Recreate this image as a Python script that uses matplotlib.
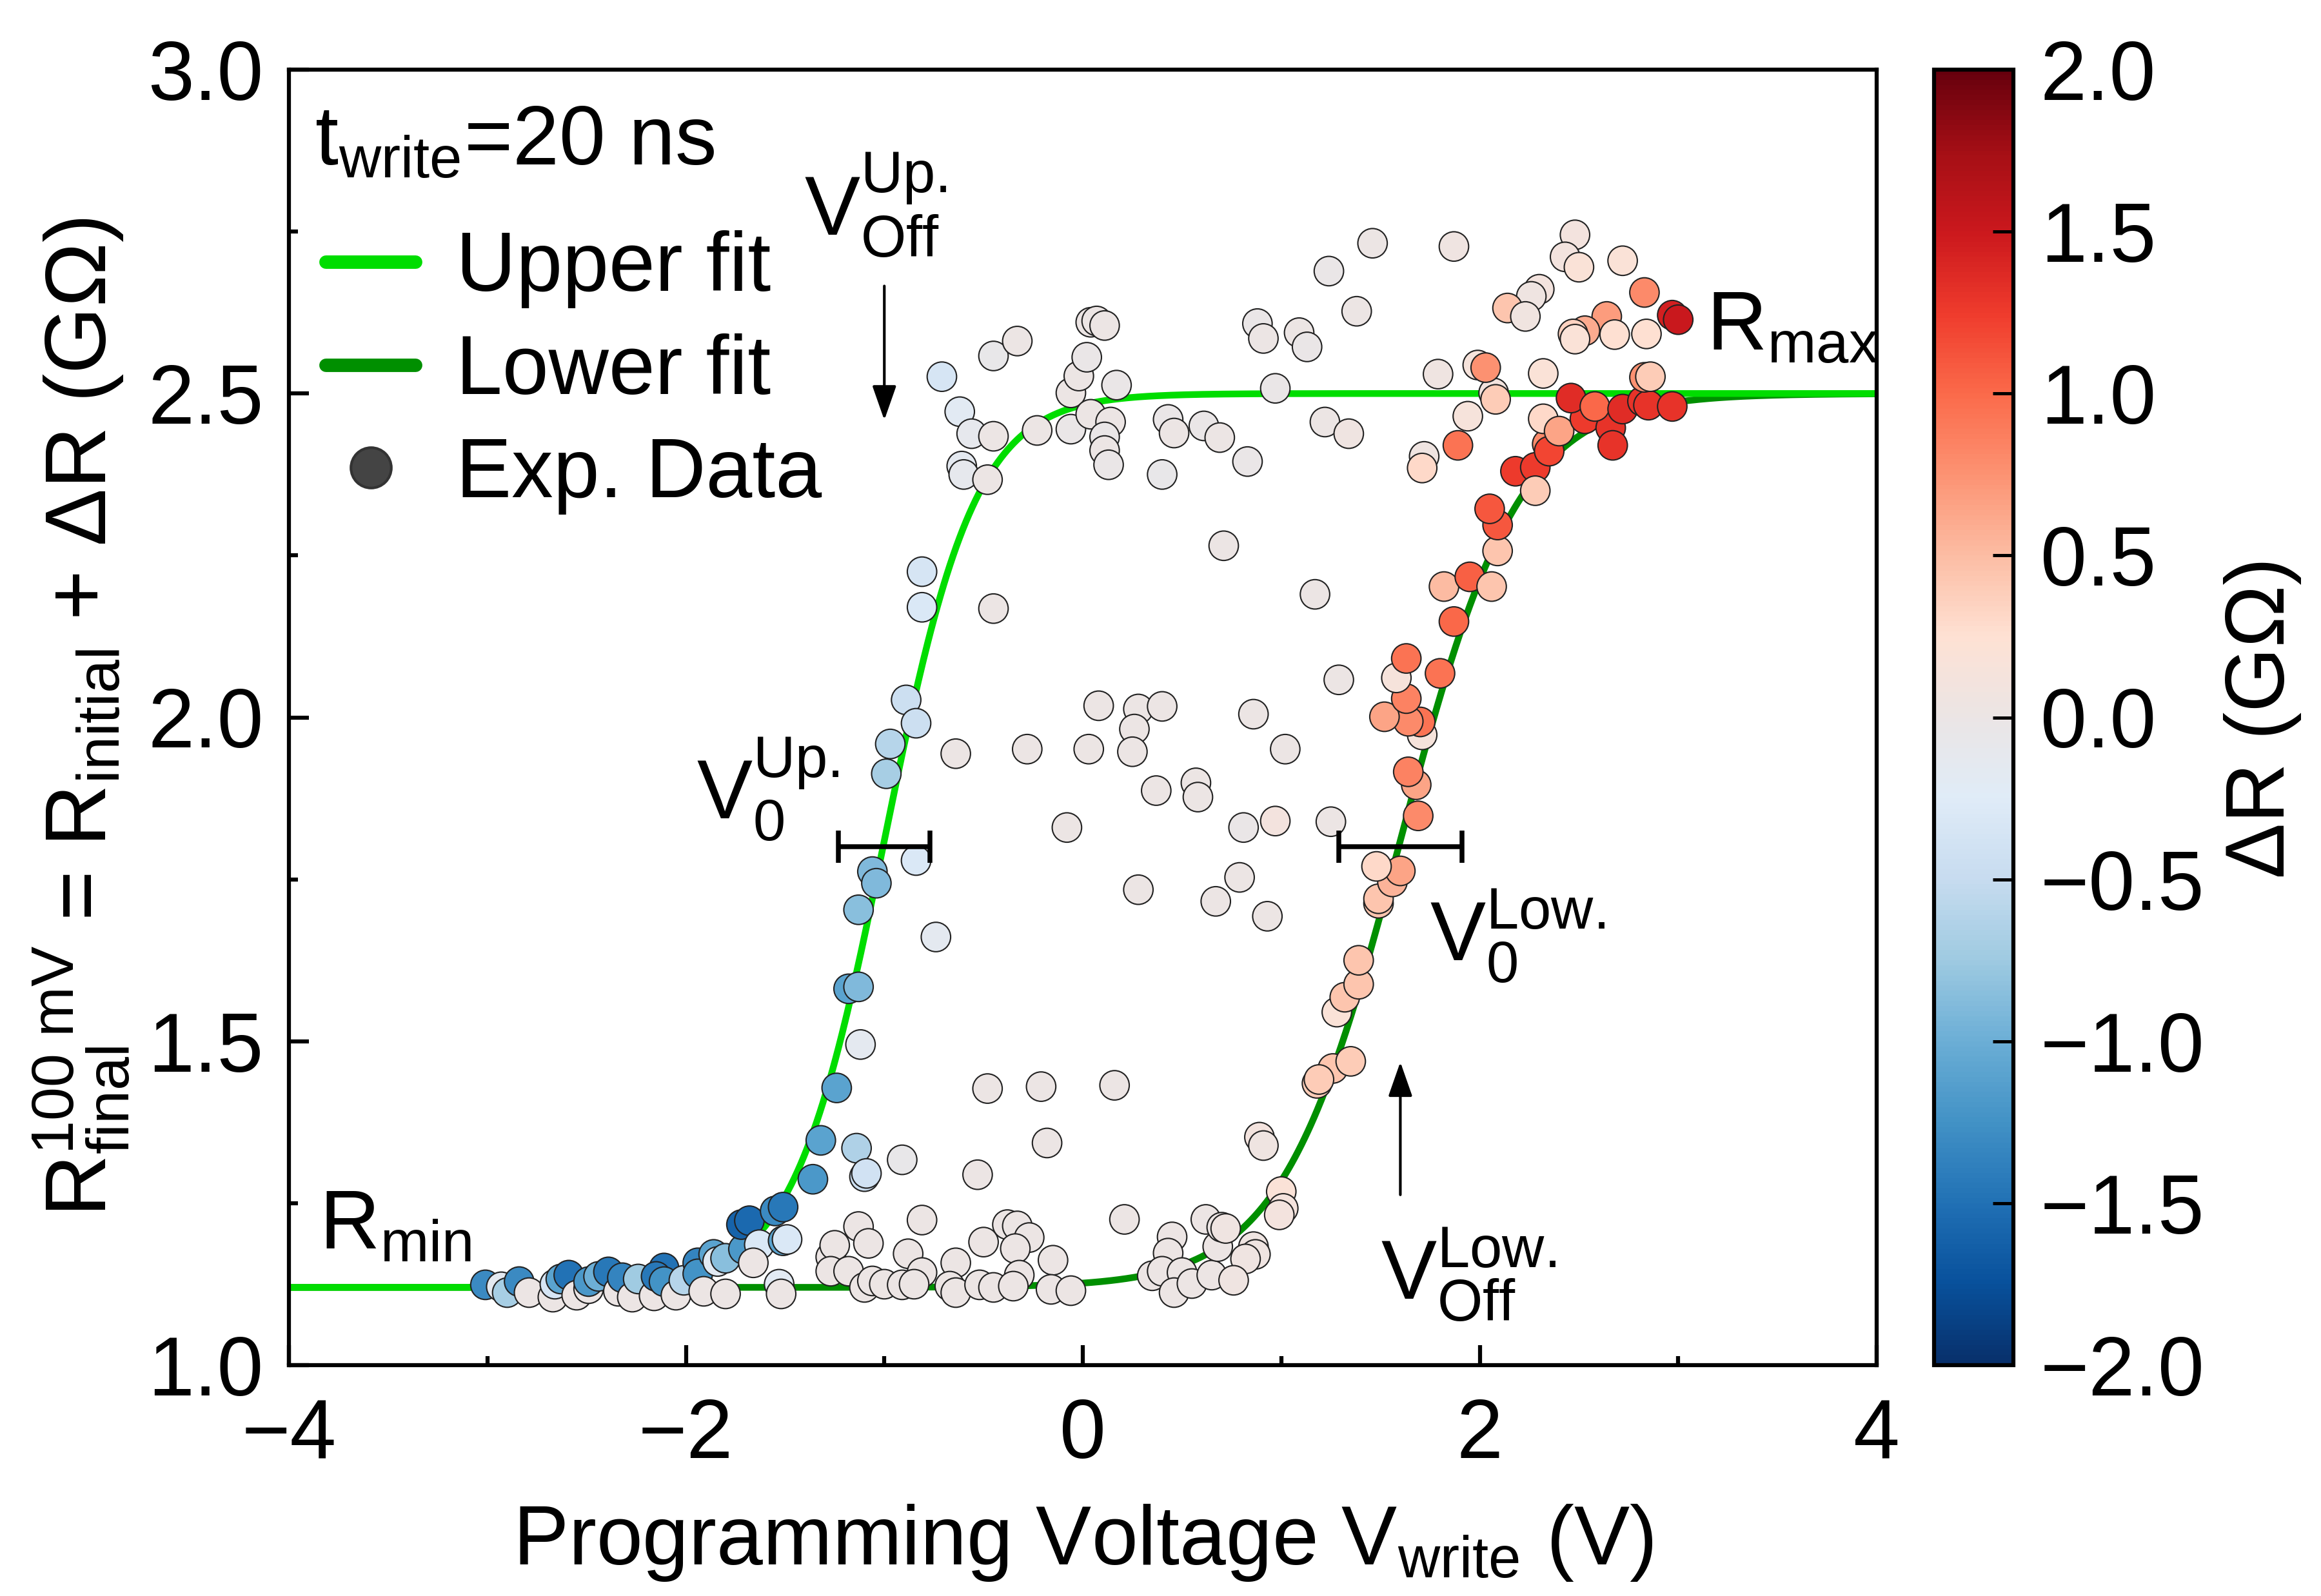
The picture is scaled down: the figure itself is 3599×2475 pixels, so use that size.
import numpy as np
import matplotlib
matplotlib.use('Agg')
import matplotlib.pyplot as plt
from matplotlib.lines import Line2D
from matplotlib.ticker import MultipleLocator
from matplotlib.colors import LinearSegmentedColormap

# ---- data ----
# low state, left side (V < -1.2)
low_left_v = [-3.01, -2.93, -2.90, -2.84, -2.79, -2.67, -2.66, -2.63, -2.59, -2.55,
              -2.49, -2.49, -2.44, -2.39, -2.34, -2.32, -2.27, -2.24, -2.16, -2.11,
              -2.15, -2.11, -2.05, -2.01, -1.94, -1.94, -1.91, -1.86, -1.84, -1.80,
              -1.80, -1.71, -1.72, -1.68, -1.63, -1.66, -1.55, -1.51, -1.51, -1.49,
              -1.53, -1.52, -1.36, -1.32, -1.24, -1.27, -1.25, -1.27]
low_left_r = [1.124, 1.121, 1.112, 1.129, 1.112, 1.105, 1.125, 1.133, 1.139, 1.108,
              1.118, 1.129, 1.137, 1.144, 1.114, 1.135, 1.105, 1.133, 1.107, 1.150,
              1.137, 1.129, 1.108, 1.131, 1.158, 1.141, 1.114, 1.171, 1.160, 1.165,
              1.110, 1.179, 1.217, 1.223, 1.186, 1.158, 1.238, 1.244, 1.192, 1.194,
              1.125, 1.110, 1.287, 1.347, 1.428, 1.167, 1.185, 1.145]
low_left_dr = [-1.3, -0.15, -0.7, -1.3, 0.0, 0.0, -0.35, -1.1, -1.5, 0.0,
               0.0, -1.2, -1.0, -1.45, 0.0, -1.35, 0.0, -0.75, 0.0, -1.5,
               -1.45, -1.25, 0.0, -0.6, -1.35, -1.25, 0.0, -1.1, -0.2, -0.85,
               0.0, -1.2, -1.6, -1.55, -0.3, 0.0, -1.3, -1.45, -1.1, -0.3,
               -0.2, 0.0, -1.2, -1.1, -1.1, 0.0, 0.0, 0.0]

# upward switching branch
rise_up_v = [-1.18, -1.13, -1.12, -1.14, -0.91, -1.10, -1.09, -1.06, -1.04, -1.13,
             -0.89, -0.84, -0.97, -0.99, -0.84, -0.74, -0.81, -0.81, -0.45, -0.64]
rise_up_r = [1.581, 1.584, 1.495, 1.335, 1.317, 1.291, 1.296, 1.762, 1.744, 1.703,
             2.027, 1.991, 1.959, 1.913, 1.779, 1.661, 2.225, 2.170, 2.168, 1.944]
rise_up_dr = [-1.1, -0.9, -0.15, -0.65, -0.05, -0.45, -0.4, -0.9, -0.9, -0.85,
              -0.45, -0.45, -0.6, -0.7, -0.3, -0.15, -0.35, -0.3, 0.0, 0.0]

# high state plateau
plateau_v = [-0.71, -0.45, -0.33, -0.62, -0.56, -0.45, -0.61, -0.60, -0.48, -0.23,
             -0.06, -0.06, -0.02, 0.02, 0.04, 0.04, 0.07, 0.11, 0.17, 0.14,
             0.11, 0.11, 0.13, 0.43, 0.46, 0.61, 0.69, 0.40, 0.83, 0.97,
             1.22, 1.34, 0.71, 1.17, 1.46, 1.24, 1.38, 0.88, 0.91, 1.09, 1.13]
plateau_r = [2.526, 2.558, 2.581, 2.472, 2.438, 2.434, 2.388, 2.375, 2.367, 2.443,
             2.445, 2.501, 2.527, 2.556, 2.610, 2.468, 2.612, 2.605, 2.513, 2.456,
             2.433, 2.412, 2.390, 2.460, 2.439, 2.450, 2.432, 2.375, 2.395, 2.508,
             2.456, 2.438, 2.265, 2.190, 2.732, 2.689, 2.627, 2.608, 2.585, 2.594, 2.572]
plateau_dr = [-0.35, -0.05, 0.0, -0.2, -0.1, 0.0, -0.15, -0.1, 0.0, 0.0,
              -0.03, 0.0, 0.0, -0.03, 0.0, 0.0, 0.0, 0.0, -0.03, 0.0,
              -0.03, 0.0, -0.03, -0.02, 0.0, -0.02, 0.0, -0.05, -0.03, -0.03,
              0.0, 0.05, 0.0, 0.0, 0.0, -0.02, 0.0, -0.02, 0.0, 0.0, -0.02]

# scattered points inside the loop
middle_v = [1.29, 0.08, 0.28, 0.40, 0.26, 0.25, 0.86, -0.28, 0.03, 1.02,
            0.37, 0.57, 0.58, -0.08, 0.81, 0.97, 1.25, 0.28, 0.79, 0.67,
            0.93, -0.48, -0.21, 0.16, -0.18, -0.53, 0.89, 0.91]
middle_r = [2.058, 2.018, 2.013, 2.017, 1.982, 1.947, 2.005, 1.951, 1.951, 1.951,
            1.887, 1.899, 1.877, 1.830, 1.830, 1.840, 1.839, 1.734, 1.753, 1.716,
            1.693, 1.427, 1.430, 1.432, 1.343, 1.294, 1.352, 1.339]
middle_dr = [0.0, 0.0, 0.0, 0.0, 0.0, 0.0, 0.0, 0.0, 0.0, 0.0,
             0.0, 0.0, 0.0, 0.0, -0.02, 0.1, 0.0, 0.0, 0.0, 0.0,
             0.0, 0.0, 0.0, 0.0, 0.0, 0.0, 0.1, 0.05]

# low state, middle
low_mid_v = [-1.13, -1.08, -1.18, -1.10, -1.06, -1.00, -0.91, -0.88, -0.81, -0.81,
             -0.85, -0.64, -0.67, -0.64, -0.52, -0.45, -0.50, -0.38, -0.33, -0.27,
             -0.34, -0.32, -0.35, -0.15, -0.16, -0.06, 0.21, 0.45, 0.43, 0.35,
             0.40, 0.50, 0.46, 0.55, 0.62, 0.65, 0.68, 0.70, 0.72, 0.86,
             0.87, 0.82, 0.76, 1.00, 1.01, 0.99]
low_mid_r = [1.214, 1.188, 1.145, 1.120, 1.130, 1.125, 1.124, 1.172, 1.224, 1.143,
             1.125, 1.158, 1.122, 1.112, 1.124, 1.120, 1.190, 1.217, 1.215, 1.197,
             1.180, 1.139, 1.122, 1.162, 1.117, 1.115, 1.225, 1.198, 1.173, 1.138,
             1.145, 1.143, 1.112, 1.126, 1.225, 1.139, 1.183, 1.213, 1.211, 1.183,
             1.171, 1.164, 1.131, 1.268, 1.242, 1.232]
low_mid_dr = [0.0, 0.0, 0.0, 0.0, 0.0, 0.0, 0.0, 0.0, 0.0, 0.0,
              0.0, 0.0, 0.0, 0.0, 0.0, 0.0, 0.0, 0.0, 0.0, 0.0,
              0.0, 0.0, 0.0, 0.0, 0.0, 0.0, 0.0, 0.0, 0.0, 0.0,
              0.0, 0.0, 0.0, 0.0, 0.0, 0.0, 0.0, 0.0, 0.05, 0.05,
              0.05, 0.05, 0.05, 0.2, 0.12, 0.1]

# downward switching branch
rise_low_v = [1.18, 1.26, 1.35, 1.28, 1.32, 1.39, 1.39, 1.49, 1.49, 1.56,
              1.60, 1.48, 1.69, 1.68, 1.64, 1.71, 1.70, 1.64, 1.52, 1.63,
              1.58, 1.63, 1.80, 1.87, 1.82, 1.95, 2.06, 2.09, 2.09, 2.05,
              2.18, 2.28, 2.28, 2.34, 2.35, 2.32, 2.40, 2.53, 2.66, 2.67,
              2.46, 2.58, 2.72, 2.82, 2.85, 2.97, 2.07, 2.08, 2.32, 2.83,
              2.86, 1.19]
rise_low_r = [1.435, 1.458, 1.469, 1.545, 1.568, 1.588, 1.625, 1.713, 1.720, 1.746,
              1.763, 1.770, 1.848, 1.896, 1.916, 1.973, 1.993, 1.994, 2.001, 2.029,
              2.061, 2.091, 2.068, 2.148, 2.202, 2.217, 2.202, 2.257, 2.297, 2.322,
              2.380, 2.386, 2.350, 2.422, 2.411, 2.461, 2.442, 2.461, 2.447, 2.420,
              2.493, 2.480, 2.476, 2.488, 2.482, 2.480, 2.501, 2.491, 2.531, 2.525,
              2.526, 1.441]
rise_low_dr = [0.4, 0.45, 0.4, 0.2, 0.45, 0.45, 0.45, 0.45, 0.45, 0.55,
               0.65, 0.3, 0.8, 0.65, 0.85, 0.15, 0.95, 0.8, 0.65, 0.85,
               0.15, 0.95, 0.95, 1.0, 0.5, 1.05, 0.45, 0.45, 1.1, 1.1,
               1.25, 1.25, 0.4, 0.8, 1.2, 0.3, 0.65, 1.25, 1.3, 1.3,
               1.35, 1.0, 1.35, 1.3, 1.3, 1.3, 0.1, 0.4, 0.2, 0.75,
               0.4, 0.4]

# above the plateau, right side
top_right_v = [1.87, 1.79, 1.99, 2.03, 1.94, 1.89, 1.72, 1.71, 2.48, 2.43,
               2.50, 2.72, 2.30, 2.26, 2.14, 2.23, 2.83, 2.97, 3.00, 2.64,
               2.53, 2.47, 2.48, 2.68, 2.84]
top_right_r = [2.727, 2.530, 2.544, 2.540, 2.465, 2.420, 2.403, 2.385, 2.745, 2.711,
               2.695, 2.705, 2.661, 2.650, 2.632, 2.619, 2.656, 2.621, 2.614, 2.619,
               2.597, 2.592, 2.584, 2.591, 2.592]
top_right_dr = [0.05, 0.05, 0.15, 0.75, 0.15, 0.95, 0.05, 0.3, 0.1, 0.1,
                0.2, 0.2, 0.1, 0.05, 0.45, 0.07, 0.8, 1.45, 1.5, 0.7,
                0.6, 0.35, 0.2, 0.25, 0.25]

# fit parameters (sigmoid)
r_min = 1.12
r_max = 2.50
v0_up, w_up, v0_up_err = -1.00, 0.23, 0.23
v0_low, w_low, v0_low_err = 1.60, 0.30, 0.31
r_mark = 1.80

v_write = np.concatenate([low_left_v, rise_up_v, plateau_v, middle_v, low_mid_v, rise_low_v, top_right_v])
r_final = np.concatenate([low_left_r, rise_up_r, plateau_r, middle_r, low_mid_r, rise_low_r, top_right_r])
delta_r = np.concatenate([low_left_dr, rise_up_dr, plateau_dr, middle_dr, low_mid_dr, rise_low_dr, top_right_dr])

plt.rcParams['font.family'] = ['Liberation Sans', 'DejaVu Sans']
plt.rcParams['mathtext.fontset'] = 'custom'
plt.rcParams['mathtext.rm'] = 'Liberation Sans'
plt.rcParams['mathtext.it'] = 'Liberation Sans:italic'
plt.rcParams['mathtext.bf'] = 'Liberation Sans:bold'
plt.rcParams['mathtext.default'] = 'regular'
plt.rcParams['font.size'] = 31

# blue -> grey-white -> red map
blues = plt.get_cmap('Blues')
reds = plt.get_cmap('Reds')
cmap = LinearSegmentedColormap.from_list(
    'blue_red', list(blues(np.linspace(1, 0.12, 8))) + ['#ebe5e5'] + list(reds(np.linspace(0.12, 1, 8))))


def sigmoid(v, v0, w):
    return r_min + (r_max - r_min) / (1 + np.exp(-(v - v0) / w))


fig = plt.figure(figsize=(3599 / 300, 2475 / 300), dpi=300)
ax = fig.add_axes([448 / 3599, 1 - 2117 / 2475, 2462 / 3599, 2009 / 2475])
cax = fig.add_axes([2999 / 3599, 1 - 2117 / 2475, 123 / 3599, 2009 / 2475])

v_fit = np.linspace(-4, 4, 1000)
ax.plot(v_fit, sigmoid(v_fit, v0_low, w_low), color='#008f00', lw=2.5, zorder=2)
ax.plot(v_fit, sigmoid(v_fit, v0_up, w_up), color='#00dd00', lw=2.5, zorder=2)

sc = ax.scatter(v_write, r_final, c=delta_r, cmap=cmap, vmin=-2, vmax=2,
                s=120, edgecolors='#222222', linewidths=0.5, zorder=3)

ax.errorbar([v0_up, v0_low], [r_mark, r_mark], xerr=[v0_up_err, v0_low_err], fmt='none',
            ecolor='black', elinewidth=1.8, capsize=6, capthick=1.8, zorder=4)

arrow = dict(arrowstyle='-|>,head_length=0.4,head_width=0.14', mutation_scale=27.5,
             lw=1.0, color='black', shrinkA=0, shrinkB=0)
ax.annotate('', xy=(v0_up, 2.459), xytext=(v0_up, 2.666), arrowprops=arrow, zorder=4)
ax.annotate('', xy=(v0_low, 1.468), xytext=(v0_low, 1.263), arrowprops=arrow, zorder=4)

ax.text(-3.871, 2.852, 't$_{write}$=20 ns', va='baseline', ha='left')
ax.text(-1.404, 2.744, '$V^{Up.}_{Off}$', va='baseline', ha='left')
ax.text(-1.945, 1.843, '$V^{Up.}_{0}$', va='baseline', ha='left')
ax.text(1.748, 1.624, '$V^{Low.}_{0}$', va='baseline', ha='left')
ax.text(1.502, 1.101, '$V^{Low.}_{Off}$', va='baseline', ha='left')
ax.text(3.143, 2.567, '$R_{max}$', va='baseline', ha='left')
ax.text(-3.846, 1.18, '$R_{min}$', va='baseline', ha='left')

handles = [Line2D([0], [0], color='#00dd00', lw=5, solid_capstyle='round'),
           Line2D([0], [0], color='#008f00', lw=5, solid_capstyle='round'),
           Line2D([0], [0], ls='none', marker='o', ms=15, mfc='#444444', mec='#333333')]
ax.legend(handles, ['Upper fit', 'Lower fit', 'Exp. Data'], loc='upper left',
          bbox_to_anchor=(-3.815, 2.752), bbox_transform=ax.transData, frameon=False,
          borderpad=0, borderaxespad=0, handlelength=1.08, handletextpad=0.485,
          labelspacing=0.3, fontsize=31)

ax.set_xlim(-4, 4)
ax.set_ylim(1.0, 3.0)
ax.set_xticks([-4, -2, 0, 2, 4])
ax.set_yticks([1.0, 1.5, 2.0, 2.5, 3.0])
ax.xaxis.set_minor_locator(MultipleLocator(1))
ax.yaxis.set_minor_locator(MultipleLocator(0.25))
ax.tick_params(which='both', direction='in', width=1.5, top=False, right=False)
ax.tick_params(which='major', length=7.5, labelsize=31)
ax.tick_params(which='minor', length=3.4)
ax.tick_params(axis='x', which='major', pad=12)
ax.tick_params(axis='y', which='major', pad=9.5)
for s in ax.spines.values():
    s.set_linewidth(1.5)

ax.set_xlabel('Programming Voltage V$_{write}$ (V)', labelpad=10)
ax.set_ylabel('R$^{100\\ mV}_{final}$ = R$_{initial}$ + ΔR (GΩ)', fontsize=32, labelpad=6)

cb = fig.colorbar(sc, cax=cax, ticks=np.arange(-2, 2.01, 0.5))
cb.outline.set_linewidth(1.5)
cax.tick_params(direction='in', length=7.7, width=1.2, labelsize=31, pad=10)
cb.set_label('ΔR (GΩ)', labelpad=7)

fig.savefig('out.png', dpi=300)
